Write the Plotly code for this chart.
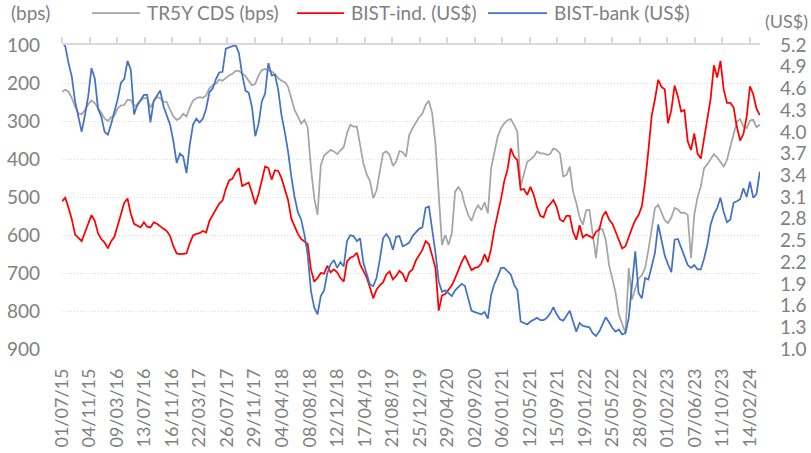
import pandas as pd
import plotly.graph_objects as go

# ---------------- data ----------------
dates = pd.date_range("2015-07-01", periods=214, freq="15D")

tick_labels = ["01/07/15", "04/11/15", "09/03/16", "13/07/16", "16/11/16", "22/03/17",
               "26/07/17", "29/11/17", "04/04/18", "08/08/18", "12/12/18", "17/04/19",
               "21/08/19", "25/12/19", "29/04/20", "02/09/20", "06/01/21", "12/05/21",
               "15/09/21", "19/01/22", "25/05/22", "28/09/22", "01/02/23", "07/06/23",
               "11/10/23", "14/02/24"]

cds_bps = [
    223, 218, 223, 240, 262, 280, 282, 271, 256, 246,
    253, 268, 279, 293, 300, 290, 286, 267, 259, 258,
    244, 245, 259, 260, 247, 239, 240, 265, 248, 237,
    240, 249, 250, 271, 288, 297, 293, 281, 288, 265,
    246, 240, 237, 239, 233, 214, 206, 202, 191, 194,
    187, 180, 176, 168, 168, 175, 182, 194, 206, 202,
    180, 166, 163, 167, 170, 176, 187, 194, 198, 210,
    240, 271, 288, 307, 297, 317, 424, 503, 547, 416,
    391, 384, 376, 380, 387, 377, 369, 332, 310, 315,
    315, 363, 411, 440, 458, 503, 483, 433, 385, 380,
    389, 418, 407, 379, 382, 394, 337, 319, 306, 290,
    281, 258, 247, 280, 360, 486, 626, 600, 626, 595,
    486, 474, 487, 522, 547, 563, 538, 522, 534, 514,
    543, 424, 380, 341, 319, 306, 298, 295, 310, 328,
    472, 439, 407, 401, 394, 380, 385, 385, 389, 387,
    372, 376, 385, 446, 442, 420, 486, 516, 554, 573,
    535, 534, 604, 661, 582, 586, 613, 680, 715, 753,
    810, 836, 858, 687, 770, 740, 715, 706, 687, 639,
    589, 529, 521, 540, 561, 569, 554, 529, 533, 542,
    541, 547, 661, 547, 501, 472, 424, 414, 402, 387,
    396, 407, 420, 402, 367, 337, 302, 295, 315, 319,
    299, 297, 316, 310,
]

bist_ind_usd = [
    3.04, 3.09, 2.95, 2.79, 2.58, 2.53, 2.49, 2.61, 2.74, 2.85,
    2.77, 2.60, 2.52, 2.47, 2.39, 2.49, 2.55, 2.70, 2.87, 3.02,
    3.08, 2.87, 2.73, 2.70, 2.68, 2.75, 2.69, 2.68, 2.75, 2.73,
    2.69, 2.66, 2.63, 2.56, 2.42, 2.32, 2.31, 2.31, 2.32, 2.46,
    2.57, 2.59, 2.60, 2.63, 2.61, 2.77, 2.85, 2.92, 3.01, 3.05,
    3.21, 3.33, 3.35, 3.44, 3.50, 3.25, 3.27, 3.30, 3.16, 3.00,
    3.14, 3.32, 3.52, 3.50, 3.34, 3.47, 3.46, 3.36, 3.22, 3.06,
    2.80, 2.69, 2.59, 2.52, 2.49, 2.45, 2.10, 1.93, 1.98, 2.05,
    2.04, 2.15, 2.06, 2.10, 2.06, 1.98, 1.93, 2.21, 2.26, 2.28,
    2.33, 2.17, 2.08, 1.99, 1.85, 1.70, 1.82, 1.88, 1.92, 2.03,
    2.07, 1.96, 2.01, 2.08, 2.04, 1.93, 2.06, 2.10, 2.22, 2.29,
    2.37, 2.49, 2.45, 2.29, 2.12, 1.53, 1.74, 1.76, 1.82, 1.88,
    1.98, 2.10, 2.20, 2.29, 2.19, 2.09, 2.12, 2.13, 2.18, 2.31,
    2.20, 2.39, 2.66, 2.85, 3.07, 3.32, 3.48, 3.77, 3.66, 3.61,
    3.20, 3.21, 3.13, 3.24, 3.13, 2.96, 2.84, 2.82, 2.95, 3.00,
    3.06, 2.96, 2.79, 2.76, 2.84, 2.84, 2.62, 2.51, 2.71, 2.54,
    2.58, 2.56, 2.53, 2.62, 2.65, 2.83, 2.90, 2.79, 2.73, 2.62,
    2.49, 2.39, 2.42, 2.56, 2.67, 2.78, 2.85, 2.97, 3.31, 3.74,
    4.22, 4.45, 4.72, 4.62, 4.59, 4.12, 4.30, 4.64, 4.49, 4.28,
    4.30, 3.87, 3.75, 3.98, 3.70, 3.63, 3.90, 4.21, 4.46, 4.92,
    4.75, 4.98, 4.58, 4.40, 4.40, 4.34, 4.07, 3.88, 3.97, 4.21,
    4.63, 4.52, 4.32, 4.23,
]

bist_bank_usd = [
    5.25, 5.18, 4.95, 4.76, 4.42, 4.19, 4.00, 4.23, 4.49, 4.88,
    4.74, 4.32, 4.21, 4.00, 3.96, 4.11, 4.28, 4.45, 4.68, 4.73,
    4.98, 4.86, 4.24, 4.38, 4.44, 4.51, 4.51, 4.13, 4.43, 4.50,
    4.57, 4.35, 4.23, 4.10, 3.87, 3.57, 3.70, 3.66, 3.43, 3.82,
    4.10, 4.18, 4.13, 4.18, 4.32, 4.55, 4.60, 4.73, 4.82, 4.83,
    5.15, 5.17, 5.19, 5.20, 5.09, 4.79, 4.57, 4.54, 4.34, 3.94,
    4.11, 4.42, 4.53, 4.95, 4.78, 4.79, 4.58, 4.23, 4.00, 3.73,
    3.38, 3.10, 2.89, 2.79, 2.58, 2.30, 1.80, 1.57, 1.48, 1.73,
    1.81, 2.05, 2.17, 2.23, 2.12, 2.20, 2.14, 2.49, 2.57, 2.56,
    2.49, 2.53, 2.19, 2.03, 1.89, 1.87, 1.98, 2.23, 2.53, 2.59,
    2.52, 2.37, 2.55, 2.56, 2.42, 2.44, 2.47, 2.56, 2.61, 2.66,
    2.68, 2.95, 2.97, 2.67, 2.33, 1.93, 1.79, 1.81, 1.77, 1.73,
    1.81, 1.86, 1.90, 1.87, 1.70, 1.53, 1.51, 1.49, 1.48, 1.51,
    1.42, 1.75, 1.90, 2.00, 2.12, 2.12, 2.07, 2.03, 1.89, 1.81,
    1.38, 1.36, 1.34, 1.38, 1.40, 1.43, 1.40, 1.40, 1.43, 1.49,
    1.58, 1.48, 1.41, 1.39, 1.46, 1.53, 1.38, 1.24, 1.36, 1.32,
    1.31, 1.30, 1.22, 1.18, 1.24, 1.35, 1.44, 1.37, 1.29, 1.24,
    1.27, 1.20, 1.22, 1.43, 1.88, 2.35, 1.77, 1.70, 1.98, 1.96,
    2.14, 2.33, 2.72, 2.49, 2.29, 2.17, 2.06, 2.51, 2.52, 2.40,
    2.29, 2.16, 2.12, 2.16, 2.10, 2.10, 2.25, 2.44, 2.72, 2.86,
    2.95, 3.09, 2.89, 2.75, 2.79, 3.02, 3.04, 3.07, 3.22, 3.10,
    3.31, 3.09, 3.14, 3.45,
]

series_names = ["TR5Y CDS (bps)", "BIST-ind. (US$)", "BIST-bank (US$)"]
series_colors = ["#A5A5A5", "#FF0000", "#4472C4"]

# ---------------- figure ----------------
tick_dates = pd.to_datetime(tick_labels, format="%d/%m/%y")
FONT = "Lato, 'Liberation Sans', Arial, sans-serif"
TXT = "#808080"

fig = go.Figure()
fig.add_trace(go.Scatter(x=dates, y=cds_bps, name=series_names[0], mode="lines",
                         line=dict(color=series_colors[0], width=1.75),
                         yaxis="y", showlegend=False))
fig.add_trace(go.Scatter(x=dates, y=bist_ind_usd, name=series_names[1], mode="lines",
                         line=dict(color=series_colors[1], width=1.75),
                         yaxis="y2", showlegend=False))
fig.add_trace(go.Scatter(x=dates, y=bist_bank_usd, name=series_names[2], mode="lines",
                         line=dict(color=series_colors[2], width=1.75),
                         yaxis="y2", showlegend=False))
# helper trace so the top (line/tick) axis is drawn
fig.add_trace(go.Scatter(x=[dates[0]], y=[None], xaxis="x2", yaxis="y",
                         showlegend=False, hoverinfo="skip"))

xrange = ["2015-07-01", "2024-03-31"]

fig.update_layout(
    width=811, height=453,
    margin=dict(l=62, r=51, t=45, b=104, autoexpand=False),
    paper_bgcolor="white", plot_bgcolor="white",
    font=dict(family=FONT, color=TXT, size=18),
    xaxis=dict(
        type="date", range=xrange, automargin=False,
        tickmode="array", tickvals=tick_dates, ticktext=tick_labels,
        tickangle=-90, tickfont=dict(size=18, color=TXT),
        showgrid=False, zeroline=False, showline=False, ticks="",
        ticklabelstandoff=15,
    ),
    xaxis2=dict(
        type="date", range=xrange, overlaying="x", side="top", anchor="y",
        automargin=False,
        tickmode="array", tickvals=tick_dates, showticklabels=False,
        ticks="outside", ticklen=6, tickwidth=1.5, tickcolor="#D9D9D9",
        showline=True, linecolor="#D9D9D9", linewidth=2,
        showgrid=False, zeroline=False,
    ),
    yaxis=dict(
        range=[900, 100], tickmode="linear", tick0=100, dtick=100,
        automargin=False,
        tickfont=dict(size=19, color=TXT),
        showgrid=True, gridcolor="#D9D9D9", gridwidth=1, griddash="1px,2px",
        zeroline=False, showline=False, ticks="",
        ticklabelstandoff=21,
    ),
    yaxis2=dict(
        range=[1.0, 5.2], overlaying="y", side="right", anchor="x",
        automargin=False,
        tickmode="linear", tick0=1.0, dtick=0.3, tickformat=".1f",
        tickfont=dict(size=19, color=TXT),
        showgrid=False, zeroline=False, showline=False, ticks="",
        ticklabelstandoff=19,
    ),
)

# ---------------- legend & axis unit labels (drawn manually) ----------------
def px_x(p):
    return (p - 62) / 698.0

def px_y(p):
    return (349 - p) / 304.0

leg_line_px = [(92, 140), (297, 344), (488, 547)]
leg_text_px = [145, 349, 552]
for (x0, x1), tx, name, col in zip(leg_line_px, leg_text_px, series_names, series_colors):
    fig.add_shape(type="line", xref="paper", yref="paper",
                  x0=px_x(x0), x1=px_x(x1), y0=px_y(13), y1=px_y(13),
                  line=dict(color=col, width=1.75))
    fig.add_annotation(text=name, xref="paper", yref="paper",
                       x=px_x(tx), y=px_y(13), xanchor="left", yanchor="middle",
                       showarrow=False, font=dict(size=19, color=TXT, family=FONT))

fig.add_annotation(text="(bps)", xref="paper", yref="paper",
                   x=px_x(9), y=px_y(12), xanchor="left", yanchor="middle",
                   showarrow=False, font=dict(size=19, color=TXT, family=FONT))
fig.add_annotation(text="(US$)", xref="paper", yref="paper",
                   x=px_x(810), y=px_y(21), xanchor="right", yanchor="middle",
                   showarrow=False, font=dict(size=18, color=TXT, family=FONT))

# remove the browser's default 8px page margin so the figure sits at (0, 0)
fig.write_html("out.html", config={"displayModeBar": False},
               post_script="document.body.style.margin='0';")
